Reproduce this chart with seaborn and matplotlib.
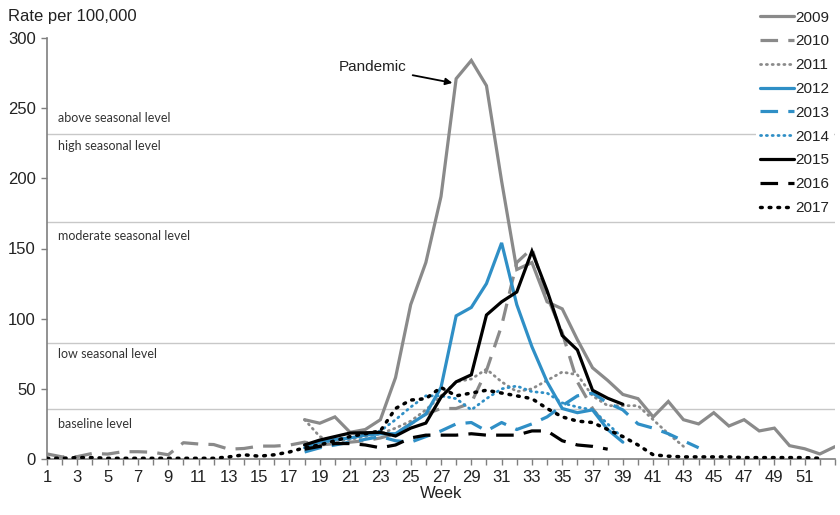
import numpy as np
import pandas as pd
import matplotlib
matplotlib.use("Agg")
import matplotlib.pyplot as plt
import seaborn as sns
from matplotlib.lines import Line2D

# ---------------- data ----------------
years = ["2009", "2010", "2011", "2012", "2013", "2014", "2015", "2016", "2017"]
start_week = {"2009": 18, "2010": 1, "2011": 18, "2012": 18, "2013": 18,
              "2014": 18, "2015": 18, "2016": 18, "2017": 1}

rate_2009 = [28, 25.5, 30, 19, 21, 28, 58, 110, 140, 187, 271, 284, 266, 198, 135,
             140, 112, 107, 85, 65, 56, 46, 43, 30, 41, 28, 25, 33, 23.5, 28, 20, 22,
             9.5, 7.3, 3.6, 8.8]
rate_2010 = [3.6, 1.5, 1.7, 4, 3.5, 5.2, 5.2, 4.8, 3, 11.6, 10.7, 10.3, 7, 7.5, 9.2,
             9.2, 9.9,
             12, 10, 11, 12, 13, 15, 18, 25, 32, 36, 36, 40, 63, 95, 140, 150, 116, 90,
             55, 36, 22]
rate_2011 = [28, 16, 12, 14, 16, 18, 22, 27, 35, 45, 55, 57, 64, 55, 48, 50, 56, 62,
             60, 45, 38, 38, 38, 28, 18, 9]
rate_2012 = [8, 12, 14, 15, 17, 18, 18, 25, 32, 51, 102, 108, 125, 154, 110, 80, 55,
             36, 33, 35, 21, 12]
rate_2013 = [5, 8, 10, 12, 14, 16, 13, 12, 16, 20, 25, 26, 20, 26, 21, 25, 30, 38, 45,
             47, 40, 35, 25, 22, 18, 13, 8]
rate_2014 = [10, 12, 13, 15, 17, 20, 28, 37, 45, 45, 43, 35, 43, 50, 52, 48, 47, 40,
             37, 35, 25, 15]
rate_2015 = [10, 13.5, 16, 18.5, 18.7, 19, 16.4, 22, 25.6, 44, 55, 60, 102.6, 112, 119,
             148, 120, 88, 77.7, 49, 43.3, 39]
rate_2016 = [7, 9, 11, 11, 10, 8, 10, 15, 17, 17, 17, 18, 17, 17, 17, 20, 20, 13, 10,
             9, 7]
rate_2017 = [0.5, 0.5, 1, 1, 0.5, 0.5, 0.5, 0.5, 0.5, 0.5, 0.5, 0.5, 1.5, 3, 2, 3, 5,
             8, 10, 13, 16, 18, 20, 36, 42, 43, 51, 45, 47, 49, 47, 45, 43, 36, 30, 27,
             26, 21, 16, 10,
             3, 2, 1.5, 1.5, 1.5, 1.5, 1, 1, 1, 1, 1, 0.5]

rates = {"2009": rate_2009, "2010": rate_2010, "2011": rate_2011, "2012": rate_2012,
         "2013": rate_2013, "2014": rate_2014, "2015": rate_2015, "2016": rate_2016,
         "2017": rate_2017}

level_values = [35.4, 82.5, 169, 231.6]
level_labels = ["baseline level", "low seasonal level", "moderate seasonal level",
                "high seasonal level", "above seasonal level"]
level_label_y = [25, 75, 159, 223, 243]

week_ticks = list(range(1, 54))
week_labels = [str(w) if (w % 2 == 1 and w <= 51) else "" for w in week_ticks]
y_ticks = [0, 50, 100, 150, 200, 250, 300]

# ---------------- frame ----------------
rows = []
for y in years:
    for i, v in enumerate(rates[y]):
        rows.append({"year": y, "week": start_week[y] + i, "rate": v})
df = pd.DataFrame(rows)

# ---------------- styles ----------------
GRAY = "#8a8a8a"
BLUE = "#2f8fc6"
BLACK = "#000000"
styles = {
    "2009": dict(color=GRAY, ls="-", lw=2.3),
    "2010": dict(color=GRAY, ls=(0, (5.5, 3.2)), lw=2.3),
    "2011": dict(color=GRAY, ls=(0, (0.4, 1.7)), lw=2.0),
    "2012": dict(color=BLUE, ls="-", lw=2.3),
    "2013": dict(color=BLUE, ls=(0, (5.5, 3.2)), lw=2.3),
    "2014": dict(color=BLUE, ls=(0, (0.4, 1.7)), lw=2.0),
    "2015": dict(color=BLACK, ls="-", lw=2.3),
    "2016": dict(color=BLACK, ls=(0, (5.5, 3.2)), lw=2.3),
    "2017": dict(color=BLACK, ls=(0, (0.5, 2.0)), lw=2.5),
}

sns.set_theme(style="white")
plt.rcParams["font.family"] = ["Liberation Sans", "DejaVu Sans"]

fig = plt.figure(figsize=(8.4, 5.15), dpi=100)
ax = fig.add_axes([47 / 840, 1 - 459 / 515, (835 - 47) / 840, (459 - 38) / 515])

# threshold lines
for lv in level_values:
    ax.axhline(lv, color="#c8c8c8", lw=1.0, zorder=1)
for lab, yy in zip(level_labels, level_label_y):
    ax.text(1.7, yy, lab, fontsize=9, family=["Lato", "DejaVu Sans"], color="#333333",
            va="center", ha="left", zorder=2)

handles = []
for y in years:
    st = styles[y]
    sub = df[df["year"] == y]
    sns.lineplot(data=sub, x="week", y="rate", ax=ax, color=st["color"],
                 linewidth=st["lw"], zorder=3, legend=False)
    ln = ax.lines[-1]
    ln.set_linestyle(st["ls"])
    ln.set_solid_joinstyle("miter")
    if isinstance(st["ls"], tuple) and st["ls"][1][0] < 1:
        ln.set_dash_capstyle("round")
    h = Line2D([0], [0], color=st["color"], lw=st["lw"], ls=st["ls"])
    if isinstance(st["ls"], tuple) and st["ls"][1][0] < 1:
        h.set_dash_capstyle("round")
    handles.append(h)

ax.set_xlim(1, 53)
ax.set_ylim(0, 300)
ax.set_xticks(week_ticks)
ax.set_xticklabels(week_labels)
ax.set_yticks(y_ticks)
ax.set_xlabel("Week", fontsize=12, color="#222222", labelpad=1)
ax.set_ylabel("")
ax.tick_params(axis="both", which="major", direction="out", length=4, width=1,
               color="#7f7f7f", labelsize=12, labelcolor="#222222", pad=4,
               bottom=True, left=True)
for s in ["top", "right"]:
    ax.spines[s].set_visible(False)
for s in ["left", "bottom"]:
    ax.spines[s].set_color("#7f7f7f")
    ax.spines[s].set_linewidth(1.2)

fig.text(8 / 840, 1 - 17 / 515, "Rate per 100,000", fontsize=12, color="#222222",
         va="center", ha="left")

ax.annotate("Pandemic", xy=(27.75, 268), xytext=(22.5, 279), fontsize=11,
            color="#222222", ha="center", va="center",
            arrowprops=dict(arrowstyle="-|>", color="black", lw=1.3,
                            shrinkA=2, shrinkB=0, mutation_scale=10))

leg = ax.legend(handles, years, loc="upper right", bbox_to_anchor=(1.0, 1.0),
                bbox_transform=fig.transFigure, frameon=True, fontsize=11,
                handlelength=2.2, handletextpad=0.1, labelspacing=0.64,
                borderpad=0.3, borderaxespad=0.4)
leg.get_frame().set_facecolor("white")
leg.get_frame().set_edgecolor("none")
leg.get_frame().set_alpha(1.0)
for t in leg.get_texts():
    t.set_color("#222222")
leg.set_zorder(5)

fig.savefig("out.png", dpi=100)
